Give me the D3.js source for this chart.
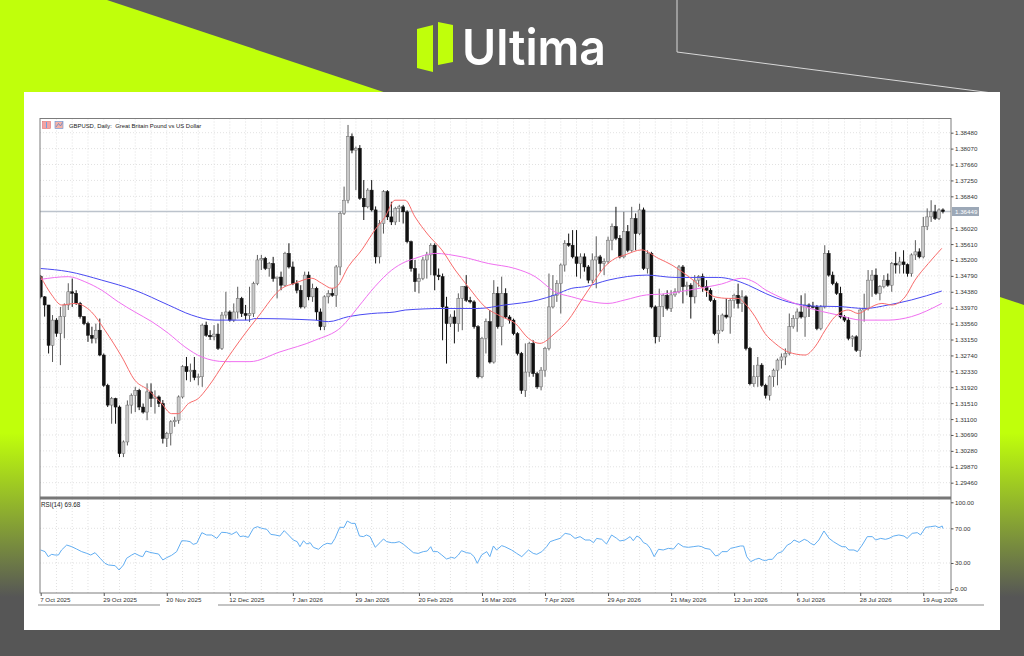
<!DOCTYPE html>
<html>
<head>
<meta charset="utf-8">
<script src="https://cdn.jsdelivr.net/npm/d3@7"></script>
<style>
  html, body { margin: 0; padding: 0; background: #5e5e5e; }
  svg { display: block; }
  text { font-family: "Liberation Sans", Arial, sans-serif; }
</style>
</head>
<body>
<script>
// GBPUSD daily bars (bar 0 = 7 Oct 2025)
const opens = [
  1.3477,1.3425,1.3404,1.3300,1.3365,1.3331,1.3374,1.3404,1.3438,1.3434,
  1.3408,1.3374,1.3356,1.3326,1.3318,1.3339,1.3275,1.3197,1.3146,1.3163,
  1.3141,1.3021,1.3051,1.3146,1.3171,1.3184,1.3141,1.3128,1.3180,1.3163,
  1.3167,1.3150,1.3060,1.3073,1.3103,1.3107,1.3167,1.3245,1.3232,1.3236,
  1.3217,1.3219,1.3352,1.3326,1.3322,1.3329,1.3292,1.3378,1.3386,1.3365,
  1.3386,1.3421,1.3382,1.3377,1.3382,1.3459,1.3520,1.3524,1.3498,1.3511,
  1.3472,1.3476,1.3455,1.3537,1.3502,1.3459,1.3442,1.3399,1.3481,1.3425,
  1.3447,1.3386,1.3348,1.3425,1.3434,1.3429,1.3502,1.3640,1.3674,1.3838,
  1.3803,1.3808,1.3679,1.3657,1.3700,1.3649,1.3528,1.3614,1.3696,1.3631,
  1.3618,1.3653,1.3657,1.3644,1.3567,1.3498,1.3464,1.3472,1.3520,1.3533,
  1.3558,1.3481,1.3477,1.3399,1.3356,1.3373,1.3356,1.3421,1.3451,1.3416,
  1.3412,1.3348,1.3219,1.3318,1.3361,1.3257,1.3434,1.3348,1.3434,1.3373,
  1.3365,1.3330,1.3279,1.3184,1.3231,1.3305,1.3227,1.3193,1.3236,1.3292,
  1.3399,1.3429,1.3459,1.3507,1.3563,1.3558,1.3528,1.3511,1.3528,1.3502,
  1.3468,1.3520,1.3528,1.3511,1.3516,1.3571,1.3606,1.3576,1.3528,1.3593,
  1.3545,1.3627,1.3588,1.3649,1.3498,1.3537,1.3399,1.3322,1.3400,1.3429,
  1.3395,1.3430,1.3438,1.3502,1.3451,1.3455,1.3425,1.3468,1.3477,1.3451,
  1.3442,1.3416,1.3330,1.3339,1.3378,1.3373,1.3416,1.3429,1.3408,1.3425,
  1.3292,1.3201,1.3219,1.3249,1.3197,1.3171,1.3219,1.3236,1.3262,1.3270,
  1.3279,1.3348,1.3369,1.3386,1.3373,1.3404,1.3400,1.3399,1.3343,1.3399,
  1.3537,1.3481,1.3459,1.3434,1.3373,1.3365,1.3318,1.3322,1.3287,1.3391,
  1.3395,1.3468,1.3481,1.3434,1.3451,1.3468,1.3455,1.3511,1.3507,1.3515,
  1.3508,1.3485,1.3533,1.3541,1.3528,1.3606,1.3631,1.3644,1.3627,1.3649
];
const highs = [
  1.3481,1.3427,1.3404,1.3378,1.3370,1.3399,1.3408,1.3460,1.3472,1.3442,
  1.3412,1.3375,1.3361,1.3348,1.3356,1.3369,1.3279,1.3201,1.3167,1.3165,
  1.3145,1.3055,1.3158,1.3176,1.3193,1.3188,1.3150,1.3202,1.3202,1.3184,
  1.3171,1.3159,1.3077,1.3107,1.3116,1.3171,1.3249,1.3270,1.3253,1.3270,
  1.3227,1.3356,1.3361,1.3339,1.3352,1.3356,1.3386,1.3438,1.3390,1.3408,
  1.3451,1.3425,1.3404,1.3451,1.3464,1.3533,1.3533,1.3528,1.3515,1.3528,
  1.3477,1.3490,1.3541,1.3563,1.3516,1.3468,1.3455,1.3490,1.3490,1.3459,
  1.3451,1.3395,1.3429,1.3442,1.3447,1.3507,1.3645,1.3709,1.3868,1.3846,
  1.3812,1.3816,1.3726,1.3705,1.3726,1.3658,1.3623,1.3700,1.3700,1.3670,
  1.3657,1.3662,1.3662,1.3648,1.3570,1.3520,1.3485,1.3528,1.3541,1.3563,
  1.3563,1.3498,1.3485,1.3425,1.3380,1.3390,1.3434,1.3452,1.3481,1.3425,
  1.3416,1.3352,1.3322,1.3369,1.3391,1.3468,1.3451,1.3477,1.3447,1.3378,
  1.3369,1.3334,1.3283,1.3305,1.3309,1.3313,1.3232,1.3244,1.3296,1.3485,
  1.3481,1.3468,1.3511,1.3571,1.3588,1.3597,1.3597,1.3537,1.3537,1.3507,
  1.3537,1.3581,1.3533,1.3524,1.3580,1.3614,1.3657,1.3584,1.3644,1.3610,
  1.3657,1.3640,1.3665,1.3655,1.3545,1.3541,1.3403,1.3446,1.3433,1.3442,
  1.3442,1.3447,1.3507,1.3507,1.3464,1.3460,1.3481,1.3481,1.3485,1.3468,
  1.3447,1.3421,1.3378,1.3382,1.3421,1.3421,1.3433,1.3459,1.3442,1.3429,
  1.3296,1.3249,1.3270,1.3254,1.3201,1.3223,1.3240,1.3266,1.3279,1.3292,
  1.3382,1.3378,1.3395,1.3429,1.3434,1.3408,1.3412,1.3404,1.3404,1.3558,
  1.3545,1.3490,1.3464,1.3451,1.3378,1.3373,1.3326,1.3326,1.3395,1.3433,
  1.3494,1.3494,1.3498,1.3455,1.3481,1.3485,1.3515,1.3541,1.3528,1.3545,
  1.3511,1.3537,1.3571,1.3550,1.3631,1.3653,1.3674,1.3662,1.3653,1.3653
];
const lows = [
  1.3421,1.3374,1.3279,1.3257,1.3322,1.3249,1.3318,1.3391,1.3399,1.3404,
  1.3369,1.3352,1.3309,1.3305,1.3305,1.3272,1.3193,1.3141,1.3098,1.3098,
  1.3012,1.3012,1.3042,1.3124,1.3128,1.3133,1.3124,1.3107,1.3141,1.3124,
  1.3141,1.3047,1.3038,1.3042,1.3090,1.3098,1.3163,1.3210,1.3206,1.3210,
  1.3197,1.3193,1.3322,1.3314,1.3313,1.3288,1.3288,1.3369,1.3361,1.3360,
  1.3369,1.3373,1.3365,1.3360,1.3373,1.3455,1.3494,1.3494,1.3477,1.3464,
  1.3421,1.3442,1.3451,1.3498,1.3455,1.3434,1.3395,1.3395,1.3416,1.3412,
  1.3365,1.3339,1.3339,1.3408,1.3425,1.3399,1.3481,1.3636,1.3666,1.3795,
  1.3700,1.3675,1.3623,1.3653,1.3645,1.3511,1.3511,1.3588,1.3623,1.3610,
  1.3610,1.3618,1.3614,1.3563,1.3490,1.3438,1.3434,1.3468,1.3472,1.3481,
  1.3442,1.3468,1.3313,1.3253,1.3347,1.3305,1.3335,1.3339,1.3412,1.3408,
  1.3343,1.3215,1.3215,1.3279,1.3253,1.3253,1.3343,1.3300,1.3369,1.3356,
  1.3326,1.3274,1.3175,1.3167,1.3219,1.3219,1.3188,1.3184,1.3219,1.3287,
  1.3395,1.3412,1.3382,1.3490,1.3554,1.3524,1.3477,1.3472,1.3490,1.3460,
  1.3460,1.3447,1.3490,1.3481,1.3510,1.3545,1.3571,1.3524,1.3524,1.3540,
  1.3541,1.3545,1.3584,1.3494,1.3485,1.3395,1.3305,1.3309,1.3373,1.3390,
  1.3386,1.3425,1.3434,1.3408,1.3429,1.3369,1.3408,1.3451,1.3438,1.3425,
  1.3412,1.3326,1.3305,1.3335,1.3369,1.3330,1.3395,1.3395,1.3386,1.3287,
  1.3197,1.3193,1.3193,1.3193,1.3163,1.3158,1.3193,1.3197,1.3240,1.3249,
  1.3274,1.3343,1.3335,1.3369,1.3322,1.3373,1.3395,1.3339,1.3339,1.3395,
  1.3477,1.3455,1.3430,1.3369,1.3360,1.3313,1.3296,1.3283,1.3270,1.3361,
  1.3390,1.3425,1.3430,1.3416,1.3447,1.3451,1.3438,1.3485,1.3485,1.3485,
  1.3477,1.3477,1.3520,1.3524,1.3524,1.3597,1.3618,1.3623,1.3623,1.3640
];
const closes = [
  1.3425,1.3404,1.3300,1.3365,1.3331,1.3374,1.3404,1.3438,1.3434,1.3408,
  1.3374,1.3356,1.3326,1.3318,1.3339,1.3275,1.3197,1.3146,1.3163,1.3141,
  1.3021,1.3051,1.3146,1.3171,1.3184,1.3141,1.3128,1.3180,1.3163,1.3167,
  1.3150,1.3060,1.3073,1.3103,1.3107,1.3167,1.3245,1.3232,1.3236,1.3217,
  1.3219,1.3352,1.3326,1.3322,1.3329,1.3292,1.3378,1.3386,1.3365,1.3386,
  1.3421,1.3382,1.3377,1.3382,1.3459,1.3520,1.3524,1.3498,1.3511,1.3472,
  1.3476,1.3455,1.3537,1.3502,1.3459,1.3442,1.3399,1.3481,1.3425,1.3447,
  1.3386,1.3348,1.3425,1.3434,1.3429,1.3502,1.3640,1.3674,1.3838,1.3803,
  1.3808,1.3679,1.3657,1.3700,1.3649,1.3528,1.3614,1.3696,1.3631,1.3618,
  1.3653,1.3657,1.3644,1.3567,1.3498,1.3464,1.3472,1.3520,1.3533,1.3558,
  1.3481,1.3477,1.3399,1.3356,1.3373,1.3356,1.3421,1.3451,1.3416,1.3412,
  1.3348,1.3219,1.3318,1.3361,1.3257,1.3434,1.3348,1.3434,1.3373,1.3365,
  1.3330,1.3279,1.3184,1.3231,1.3305,1.3227,1.3193,1.3236,1.3292,1.3399,
  1.3429,1.3459,1.3507,1.3563,1.3558,1.3528,1.3511,1.3528,1.3502,1.3468,
  1.3520,1.3528,1.3511,1.3516,1.3571,1.3606,1.3576,1.3528,1.3593,1.3545,
  1.3627,1.3588,1.3649,1.3498,1.3537,1.3399,1.3322,1.3400,1.3429,1.3395,
  1.3430,1.3438,1.3502,1.3451,1.3455,1.3425,1.3468,1.3477,1.3451,1.3442,
  1.3416,1.3330,1.3339,1.3378,1.3373,1.3416,1.3429,1.3408,1.3425,1.3292,
  1.3201,1.3219,1.3249,1.3197,1.3171,1.3219,1.3236,1.3262,1.3270,1.3279,
  1.3348,1.3369,1.3386,1.3373,1.3404,1.3400,1.3399,1.3343,1.3399,1.3537,
  1.3481,1.3459,1.3434,1.3373,1.3365,1.3318,1.3322,1.3287,1.3391,1.3395,
  1.3468,1.3481,1.3434,1.3451,1.3468,1.3455,1.3511,1.3507,1.3515,1.3508,
  1.3485,1.3533,1.3541,1.3528,1.3606,1.3631,1.3644,1.3627,1.3649,1.36449
];

// moving averages: [bar, price]
const maRed = [[0,1.3477],[2.8,1.3430],[5.3,1.3404],[8.7,1.3408],[12.9,1.3386],[16.3,1.3339],[20.6,1.3270],[23.9,1.3210],
  [27.3,1.3185],[30.7,1.3150],[33.2,1.3124],[34.9,1.3124],[37.5,1.3150],[40,1.3163],[42.5,1.3193],[46.8,1.3258],
  [50.6,1.3313],[55.2,1.3374],[61.2,1.3447],[64.5,1.3460],[68.8,1.3473],[71.3,1.3460],[73.9,1.3447],[75.1,1.3451],
  [78.1,1.3503],[81.5,1.3546],[84.8,1.3597],[87.4,1.3631],[89.9,1.3674],[92.5,1.3674],[95,1.3631],[98.4,1.3584],
  [101.8,1.3546],[105.2,1.3494],[108.5,1.3451],[112.8,1.3399],[117,1.3374],[120.4,1.3357],[123.8,1.3318],[126.7,1.3305],
  [130.5,1.3331],[133.9,1.3365],[137.3,1.3417],[140.7,1.3468],[143.2,1.3503],[145.8,1.3524],[148.3,1.3533],[152.5,1.3546],
  [156.8,1.3524],[160.2,1.3507],[162.7,1.3490],[166.1,1.3464],[168.6,1.3442],[171.1,1.3425],[174.5,1.3421],[177,1.3421],
  [178.7,1.3408],[181.3,1.3374],[183.8,1.3331],[186.4,1.3305],[189.7,1.3283],[194,1.3275],[196.5,1.3296],[199.1,1.3339],
  [201.6,1.3374],[205,1.3391],[207.5,1.3382],[210,1.3395],[213.5,1.3408],[216,1.3404],[219.4,1.3425],[221.9,1.3468],
  [225.3,1.3511],[228.7,1.3550]];
const maBlue = [[0,1.3498],[7,1.3490],[15.5,1.3468],[23.9,1.3442],[32.4,1.3404],[38.3,1.3378],[44.2,1.3365],[52.7,1.3365],
  [54.4,1.3369],[69.6,1.3365],[73,1.3361],[78.1,1.3374],[84,1.3382],[89.9,1.3386],[92.5,1.3391],[102.6,1.3395],
  [111,1.3395],[117.8,1.3404],[126.3,1.3417],[130.5,1.3430],[134.8,1.3447],[138.1,1.3451],[144,1.3468],[153.8,1.3481],
  [161,1.3475],[172,1.3475],[175.4,1.3470],[179.6,1.3455],[183.9,1.3434],[189.7,1.3412],[196.5,1.3401],[202.4,1.3400],
  [209.2,1.3395],[215.1,1.3404],[221,1.3417],[228.7,1.3440]];
const maPink = [[0,1.3470],[7,1.3477],[11.2,1.3464],[15.5,1.3442],[19.7,1.3412],[23.9,1.3386],[28.2,1.3361],[32.4,1.3331],
  [36.6,1.3296],[40.9,1.3270],[46.8,1.3258],[53.1,1.3258],[60.7,1.3283],[69.6,1.3313],[76.4,1.3348],[80.6,1.3399],
  [84.8,1.3451],[89.1,1.3494],[92.5,1.3515],[95,1.3524],[100,1.3537],[106.9,1.3528],[113.6,1.3511],[120.4,1.3498],
  [125.5,1.3477],[130.5,1.3438],[134.8,1.3425],[139.9,1.3412],[144,1.3408],[148.3,1.3417],[153.8,1.3430],[157.6,1.3432],
  [164.4,1.3442],[169.4,1.3451],[172.8,1.3458],[177.9,1.3473],[181.3,1.3462],[183.8,1.3444],[186.4,1.3430],[194,1.3399],
  [202.4,1.3378],[208.4,1.3365],[215.1,1.3365],[221,1.3374],[228.7,1.3408]];

// RSI(14): [bar, value]
const rsiPoints = [
  [0,45.0],[1.1,43.1],[1.9,37.3],[2.8,40.0],[3.6,39.2],[4.5,39.2],[5.3,45.0],[6.6,50.7],[7.9,48.8],[9.1,46.1],
  [10.4,43.1],[11.7,41.1],[12.7,39.2],[13.8,41.9],[15.1,35.4],[16.3,29.6],[17.2,27.7],[18.9,26.9],[19.9,21.9],[21,27.7],
  [21.8,35.4],[23.1,39.2],[23.9,41.1],[25.2,38.1],[25.9,37.3],[26.7,43.8],[27.7,42.3],[29,41.1],[29.9,40.4],[31,33.5],
  [32,36.2],[33.2,38.8],[34.5,43.1],[35.8,55.7],[37,55.4],[37.9,54.6],[38.7,51.5],[39.6,52.7],[40.9,65.0],[42.1,62.3],
  [43.4,62.3],[44.7,58.4],[45.9,65.4],[47.2,65.0],[48.5,63.0],[49.7,66.1],[50.6,60.4],[51.4,61.1],[52.7,59.6],[54,70.0],
  [55,71.9],[56.1,70.0],[57.4,68.8],[58.4,63.0],[59.5,62.3],[60.7,61.1],[61.8,67.3],[62.9,62.3],[64.1,56.5],[65.1,54.6],
  [65.8,48.8],[66.7,55.7],[67.5,51.9],[68.4,53.4],[69.2,48.1],[70.5,45.8],[71.7,50.7],[72.7,52.7],[73.8,51.9],[74.7,58.4],
  [75.9,71.1],[77,71.1],[77.8,78.4],[78.9,75.7],[79.8,75.7],[80.9,61.1],[81.9,60.4],[82.7,62.3],[83.6,60.4],[84.9,48.1],
  [86.1,53.4],[87,57.7],[87.8,54.6],[89.1,53.4],[89.9,53.4],[91,54.6],[92,51.9],[93.3,46.9],[94.6,41.9],[95.8,41.1],
  [97.1,43.1],[98.1,43.8],[99,48.8],[99.6,43.1],[100.7,43.1],[101.8,39.2],[103,34.6],[104.3,36.5],[105.1,35.4],[106,39.2],
  [106.8,44.2],[108.1,41.9],[109.1,41.1],[110,37.3],[110.8,29.6],[111.9,39.2],[113.2,43.1],[114,37.3],[114.9,49.6],[115.7,45.0],
  [117,50.0],[117.8,48.8],[119.5,45.0],[120.8,41.1],[122.1,37.3],[123.8,45.0],[125,41.1],[125.9,40.0],[127.2,43.1],[128.4,48.8],
  [129.3,54.6],[130.5,56.5],[131.8,58.4],[133.1,64.2],[134.4,63.0],[135.6,58.4],[136.9,60.4],[138.2,56.5],[139.4,56.5],[140.3,53.4],
  [141.1,58.4],[142.4,57.3],[143.6,51.9],[144.9,62.3],[146.2,58.4],[147,55.4],[148.3,56.5],[149.6,60.4],[150.4,55.7],[151.3,61.1],
  [152.1,59.2],[153,53.4],[153.8,51.9],[154.7,46.9],[155.7,37.3],[156.8,45.8],[158,45.0],[159.3,46.9],[160.6,46.1],[161.8,52.7],
  [163.1,48.8],[164.4,48.1],[165.6,48.8],[166.9,49.6],[167.8,48.8],[168.6,46.9],[169.9,45.8],[171.3,38.1],[172.1,39.2],[172.9,43.1],
  [174.2,43.1],[175.1,46.9],[176.3,48.1],[177.6,49.6],[178.4,49.6],[179.2,37.3],[180.2,31.6],[181.4,34.2],[182.3,35.4],[183.2,33.5],
  [184,32.7],[184.8,34.2],[185.7,34.2],[187,41.1],[188.2,43.1],[189.5,50.7],[190.4,52.7],[191.2,56.5],[192.5,53.8],[193.8,57.3],
  [194.6,55.7],[195.4,52.7],[196.3,50.7],[197.5,56.5],[198.8,66.9],[200.1,58.4],[201.2,54.6],[202.6,50.7],[203.4,48.8],[204.3,48.8],
  [205.1,45.0],[206.4,45.0],[207.3,43.1],[208.5,50.7],[209.8,60.4],[211.1,60.4],[211.9,56.5],[213.2,58.4],[214.4,57.3],[215.3,58.4],
  [216.5,61.1],[217.8,62.3],[219.1,61.1],[219.9,58.4],[221.2,64.2],[222.5,65.0],[223.3,62.3],[224.6,71.1],[225.9,71.9],[227.1,72.7],
  [228,70.7],[228.8,72.7],[229,69.7]
];

const dateLabels = ["7 Oct 2025","29 Oct 2025","20 Nov 2025","12 Dec 2025","7 Jan 2026","29 Jan 2026","20 Feb 2026",
  "16 Mar 2026","7 Apr 2026","29 Apr 2026","21 May 2026","12 Jun 2026","6 Jul 2026","28 Jul 2026","19 Aug 2026"];
const dateBars = [0,16,32,48,64,80,96,112,128,144,160,176,192,208,224];
const priceTicks = [1.38480,1.38070,1.37660,1.37250,1.36840,1.36020,1.35610,1.35200,1.34790,1.34380,1.33970,
  1.33560,1.33150,1.32740,1.32330,1.31920,1.31510,1.31100,1.30690,1.30280,1.29870,1.29460];
const rsiTicks = [100, 70, 30, 0];
const rsiGrid = [70, 30];
const lastPrice = 1.36449;
const titleText = "GBPUSD, Daily:  Great Britain Pound vs US Dollar";
const rsiTitle = "RSI(14) 69.68";

const W = 1024, H = 656;
const svg = d3.select("body").append("svg").attr("width", W).attr("height", H);
const defs = svg.append("defs");

// ---------- background ----------
svg.append("rect").attr("width", W).attr("height", H).attr("fill", "#5e5e5e");
svg.append("polygon")
  .attr("points", "0,0 107,0 1024,305 1024,656 0,656")
  .attr("fill", "#c0ff0b");
const fade = defs.append("linearGradient").attr("id", "fade")
  .attr("x1", 0).attr("y1", 0).attr("x2", 0).attr("y2", 1);
fade.append("stop").attr("offset", "0.66").attr("stop-color", "#565656").attr("stop-opacity", 0);
fade.append("stop").attr("offset", "0.91").attr("stop-color", "#565656").attr("stop-opacity", 1);
svg.append("rect").attr("width", W).attr("height", H).attr("fill", "url(#fade)");
svg.append("path").attr("d", "M677,0 V52 L1000,94").attr("fill", "none")
  .attr("stroke", "#d8d8d8").attr("stroke-width", 1);

// logo
const logo = svg.append("g");
logo.append("polygon").attr("points", "417,29 433,25 433,72 417,68").attr("fill", "#c0ff0b");
logo.append("polygon").attr("points", "438,22 453,25 453,62 438,65").attr("fill", "#c0ff0b");
logo.append("text").attr("x", 462).attr("y", 65).text("Ultima")
  .style("font-family", "Inter, 'Open Sans', sans-serif").style("font-weight", 600)
  .style("font-size", "50px").attr("fill", "#ffffff")
  .attr("textLength", 144).attr("lengthAdjust", "spacingAndGlyphs");

// white card
svg.append("rect").attr("x", 24).attr("y", 92).attr("width", 976).attr("height", 538).attr("fill", "#ffffff");

// ---------- scales ----------
const n = closes.length;
const L = 40, R = 951, T = 118.5, MB = 497, RT = 499, RB = 593;
const x = d3.scaleLinear().domain([0, n - 1]).range([40.7, 40.7 + 3.94 * (n - 1)]);
const y = d3.scaleLinear().domain([1.2946, 1.3848]).range([482.7, 132.7]);
const yr = d3.scaleLinear().domain([0, 100]).range([589, 502.3]);

defs.append("clipPath").attr("id", "clipMain").append("rect")
  .attr("x", L).attr("y", T).attr("width", R - L).attr("height", MB - T);
defs.append("clipPath").attr("id", "clipRsi").append("rect")
  .attr("x", L).attr("y", RT).attr("width", R - L).attr("height", RB - RT);

// ---------- grid ----------
const grid = svg.append("g").attr("stroke", "#d9d9d9").attr("stroke-width", 0.8)
  .attr("stroke-dasharray", "1,2");
const vBars = d3.range(4, n + 2, 4);
grid.selectAll(".vg").data(vBars).join("line")
  .attr("x1", d => x(d)).attr("x2", d => x(d)).attr("y1", T).attr("y2", MB);
grid.selectAll(".vg2").data(vBars).join("line")
  .attr("x1", d => x(d)).attr("x2", d => x(d)).attr("y1", RT).attr("y2", RB);
grid.selectAll(".hg").data(priceTicks).join("line")
  .attr("x1", L).attr("x2", R).attr("y1", d => y(d)).attr("y2", d => y(d));
grid.selectAll(".rg").data(rsiGrid).join("line")
  .attr("x1", L).attr("x2", R).attr("y1", d => yr(d)).attr("y2", d => yr(d));

// last price line
svg.append("line").attr("x1", L).attr("x2", R).attr("y1", y(lastPrice)).attr("y2", y(lastPrice))
  .attr("stroke", "#bcc3cc").attr("stroke-width", 1.4);

// ---------- candles ----------
const bars = d3.range(n);
const plot = svg.append("g").attr("clip-path", "url(#clipMain)");
const candle = plot.selectAll("g.c").data(bars).join("g");
candle.append("line")
  .attr("x1", i => x(i)).attr("x2", i => x(i))
  .attr("y1", i => y(highs[i])).attr("y2", i => y(lows[i]))
  .attr("stroke", i => closes[i] >= opens[i] ? "#5a5a5a" : "#111")
  .attr("stroke-width", 1);
candle.append("rect")
  .attr("x", i => x(i) - 1.5).attr("width", 3)
  .attr("y", i => y(Math.max(opens[i], closes[i])))
  .attr("height", i => Math.max(0.8, Math.abs(y(opens[i]) - y(closes[i]))))
  .attr("fill", i => closes[i] >= opens[i] ? "#c9c9c9" : "#111")
  .attr("stroke", i => closes[i] >= opens[i] ? "#6a6a6a" : "#111")
  .attr("stroke-width", 0.5);

// ---------- moving averages ----------
const maLine = d3.line().x(d => x(d[0])).y(d => y(d[1])).curve(d3.curveMonotoneX);
plot.append("path").datum(maBlue).attr("d", maLine).attr("fill", "none")
  .attr("stroke", "#4a4af2").attr("stroke-width", 1);
plot.append("path").datum(maPink).attr("d", maLine).attr("fill", "none")
  .attr("stroke", "#f070f0").attr("stroke-width", 1);
plot.append("path").datum(maRed).attr("d", maLine).attr("fill", "none")
  .attr("stroke", "#f86b6b").attr("stroke-width", 1);

// ---------- RSI ----------
const rsiLine = d3.line().x(d => x(d[0])).y(d => yr(d[1]));
svg.append("g").attr("clip-path", "url(#clipRsi)")
  .append("path").datum(rsiPoints).attr("d", rsiLine).attr("fill", "none")
  .attr("stroke", "#62aef2").attr("stroke-width", 1);

// ---------- frames ----------
const frame = svg.append("g").attr("fill", "none").attr("stroke", "#7c7c7c").attr("stroke-width", 1);
frame.append("rect").attr("x", L).attr("y", T).attr("width", R - L).attr("height", RB - T);
svg.append("rect").attr("x", L).attr("y", MB - 0.5).attr("width", R - L).attr("height", RT - MB + 1)
  .attr("fill", "#777");

// ---------- axes ----------
const axisFont = "6.2px";
const pAxis = svg.append("g").attr("transform", `translate(${R},0)`)
  .call(d3.axisRight(y).tickValues(priceTicks).tickFormat(d3.format(".5f")).tickSize(2.5).tickPadding(1.5));
pAxis.select(".domain").remove();
pAxis.selectAll("line").attr("stroke", "#555");
pAxis.selectAll("text").style("font-size", axisFont).style("font-family", "'Liberation Sans', Arial, sans-serif")
  .attr("fill", "#333");

const rAxis = svg.append("g").attr("transform", `translate(${R},0)`)
  .call(d3.axisRight(yr).tickValues(rsiTicks).tickFormat(d3.format(".2f")).tickSize(2.5).tickPadding(1.5));
rAxis.select(".domain").remove();
rAxis.selectAll("line").attr("stroke", "#555");
rAxis.selectAll("text").style("font-size", axisFont).style("font-family", "'Liberation Sans', Arial, sans-serif")
  .attr("fill", "#333");

const xAxis = svg.append("g").attr("transform", `translate(0,${RB})`)
  .call(d3.axisBottom(x).tickValues(dateBars).tickFormat((d, i) => dateLabels[i]).tickSize(3).tickPadding(1.5));
xAxis.select(".domain").remove();
xAxis.selectAll("line").attr("stroke", "#555");
xAxis.selectAll("text").attr("text-anchor", "start").attr("dx", "-1")
  .style("font-size", axisFont).style("font-family", "'Liberation Sans', Arial, sans-serif").attr("fill", "#333");

// last price tag
const tag = svg.append("g").attr("transform", `translate(${R + 1},${y(lastPrice)})`);
tag.append("rect").attr("x", 0).attr("y", -4.5).attr("width", 27).attr("height", 9).attr("fill", "#9ca8b7");
tag.append("text").attr("x", 3).attr("y", 2.2).text(d3.format(".5f")(lastPrice))
  .style("font-size", axisFont).attr("fill", "#ffffff");

// scrollbar strips under the date axis
svg.append("g").attr("stroke", "#c4c4c4").attr("stroke-width", 2)
  .selectAll("line").data([[38, 160], [218, 984]]).join("line")
  .attr("x1", d => d[0]).attr("x2", d => d[1]).attr("y1", 605).attr("y2", 605);

// ---------- titles ----------
const icons = svg.append("g");
icons.append("rect").attr("x", 42.5).attr("y", 121.5).attr("width", 8).attr("height", 7)
  .attr("fill", "#f3a3a3").attr("stroke", "#e27070").attr("stroke-width", 0.6);
icons.append("line").attr("x1", 46.5).attr("x2", 46.5).attr("y1", 122).attr("y2", 128)
  .attr("stroke", "#6f9fe0").attr("stroke-width", 1);
icons.append("rect").attr("x", 55).attr("y", 121.5).attr("width", 8).attr("height", 7)
  .attr("fill", "#f6b2a6").attr("stroke", "#5d8fd8").attr("stroke-width", 0.6);
icons.append("path").attr("d", "M56,127 L58.5,123.5 L60.5,126 L62.5,122.5").attr("fill", "none")
  .attr("stroke", "#4a7fd0").attr("stroke-width", 0.7);

svg.append("text").attr("x", 69).attr("y", 128.2).text(titleText)
  .style("font-size", "5.9px").style("white-space", "pre").attr("fill", "#222");
svg.append("text").attr("x", 41).attr("y", 506.5).text(rsiTitle)
  .style("font-size", "6.3px").attr("fill", "#222");
</script>
</body>
</html>
